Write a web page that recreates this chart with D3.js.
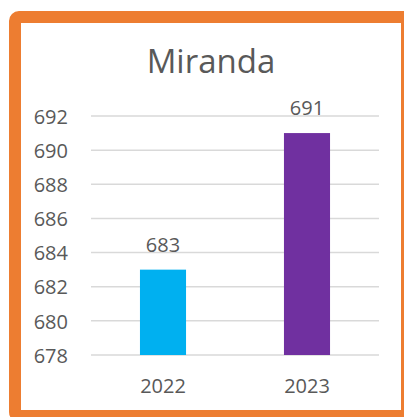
<!DOCTYPE html>
<html>
<head>
<meta charset="utf-8">
<script src="https://cdn.jsdelivr.net/npm/d3@7"></script>
<style>
  body { margin: 0; background: #fff; }
  text { font-family: "Open Sans", sans-serif; fill: #595959; }
</style>
</head>
<body>
<script>
// chart data
var title = "Miranda";
var years = ["2022", "2023"];
var values = [683, 691];
var barColors = ["#00B0F0", "#7030A0"];
var yTicks = [678, 680, 682, 684, 686, 688, 690, 692];

var width = 404, height = 417;
var svg = d3.select("body").append("svg")
    .attr("width", width)
    .attr("height", height);

// orange frame
svg.append("rect")
    .attr("x", 15).attr("y", 17)
    .attr("width", 392).attr("height", 399)
    .attr("rx", 4)
    .attr("fill", "#fff")
    .attr("stroke", "#ED7D31")
    .attr("stroke-width", 12);

var plot = { left: 91, right: 379, top: 116, bottom: 355 };

var x = d3.scaleBand()
    .domain(years)
    .range([plot.left, plot.right])
    .paddingInner(0.68)
    .paddingOuter(0.34);

var y = d3.scaleLinear()
    .domain([678, 692])
    .range([plot.bottom, plot.top]);

// gridlines
svg.append("g")
    .selectAll("line")
    .data(yTicks)
    .enter().append("line")
    .attr("x1", plot.left).attr("x2", plot.right)
    .attr("y1", (d) => y(d)).attr("y2", (d) => y(d))
    .attr("stroke", "#D9D9D9")
    .attr("stroke-width", 1.5);

// y axis labels
var yAxis = svg.append("g")
    .attr("transform", "translate(68,0)")
    .call(d3.axisLeft(y).tickValues(yTicks).tickSize(0).tickPadding(0));
yAxis.select(".domain").remove();
yAxis.selectAll("text")
    .attr("font-family", "Open Sans, sans-serif")
    .attr("font-size", 20)
    .attr("fill", "#595959")
    .attr("dy", "0.36em");

// x axis labels
var xAxis = svg.append("g")
    .attr("transform", "translate(0," + plot.bottom + ")")
    .call(d3.axisBottom(x).tickSize(0).tickPadding(24));
xAxis.select(".domain").remove();
xAxis.selectAll("text")
    .attr("font-family", "Open Sans, sans-serif")
    .attr("font-size", 20)
    .attr("fill", "#595959");

// bars
svg.append("g")
    .selectAll("rect")
    .data(years)
    .enter().append("rect")
    .attr("x", (d) => x(d))
    .attr("width", x.bandwidth())
    .attr("y", (d, i) => y(values[i]))
    .attr("height", (d, i) => y(678) - y(values[i]))
    .attr("fill", (d, i) => barColors[i]);

// value labels
svg.append("g")
    .selectAll("text")
    .data(years)
    .enter().append("text")
    .attr("x", (d) => x(d) + x.bandwidth() / 2)
    .attr("y", (d, i) => y(values[i]) - 18)
    .attr("text-anchor", "middle")
    .attr("font-size", 20)
    .text((d, i) => values[i]);

// title
svg.append("text")
    .attr("x", 211)
    .attr("y", 73)
    .attr("text-anchor", "middle")
    .attr("font-size", 33)
    .text(title);
</script>
</body>
</html>
